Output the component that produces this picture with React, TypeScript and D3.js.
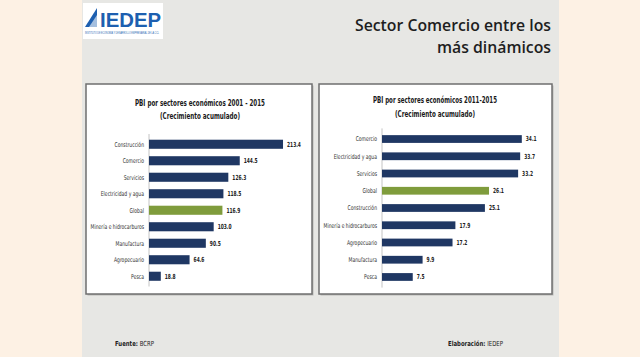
import React from "react";
import * as d3 from "d3";

const leftCategories = ["Construcción", "Comercio", "Servicios", "Electricidad y agua", "Global", "Minería e hidrocarburos", "Manufactura", "Agropecuario", "Pesca"];
const leftValues = [213.4, 144.5, 126.3, 118.5, 116.9, 103.0, 90.5, 64.6, 18.8];
const rightCategories = ["Comercio", "Electricidad y agua", "Servicios", "Global", "Construcción", "Minería e hidrocarburos", "Agropecuario", "Manufactura", "Pesca"];
const rightValues = [34.1, 33.7, 33.2, 26.1, 25.1, 17.9, 17.2, 9.9, 7.5];
const leftTitle = ["PBI por sectores económicos 2001 - 2015", "(Crecimiento acumulado)"];
const rightTitle = ["PBI por sectores económicos 2011-2015", "(Crecimiento acumulado)"];

const NAVY = "#1f3763";
const GREEN = "#7f9c3c";
const NARROW = "'Liberation Sans Narrow', 'DejaVu Sans Condensed', 'Noto Sans', sans-serif";

type PanelProps = {
  cats: string[];
  vals: number[];
  title: string[];
  box: [number, number, number, number];
  axisX: number;
  pxPerUnit: number;
  yTop: number;
  yBottom: number;
  pad: number;
  titleX: number;
  titleY: number[];
  titleW: number[];
};

function Panel(p: PanelProps) {
  const y = d3.scaleBand<string>().domain(p.cats).range([p.yTop, p.yBottom]).paddingInner(p.pad).paddingOuter(p.pad / 2);
  const maxV = d3.max(p.vals) as number;
  const x = d3.scaleLinear().domain([0, maxV]).range([p.axisX, p.axisX + maxV * p.pxPerUnit]);
  const [bx, by, bw, bh] = p.box;
  return (
    <g>
      <rect x={bx + 1.5} y={by + 1.5} width={bw} height={bh} fill="#b9b9b6" />
      <rect x={bx} y={by} width={bw} height={bh} fill="#ffffff" stroke="#6f6f6f" strokeWidth={1.5} />
      {p.title.map((t, i) => (
        <text key={i} x={p.titleX} y={p.titleY[i]} textAnchor="middle" fontFamily={NARROW} fontWeight="bold" fontSize={9.5} fill="#1a1a1a" textLength={p.titleW[i]} lengthAdjust="spacingAndGlyphs">{t}</text>
      ))}
      <line x1={p.axisX} x2={p.axisX} y1={p.yTop - 2} y2={p.yBottom + 2} stroke="#c4c4c4" strokeWidth={1} />
      {p.cats.map((c, i) => {
        const yy = y(c) as number;
        const bwid = y.bandwidth();
        const cy = yy + bwid / 2;
        return (
          <g key={c}>
            <rect x={x(0)} y={yy} width={x(p.vals[i]) - x(0)} height={bwid} fill={c === "Global" ? GREEN : NAVY} />
            <text transform={`translate(${p.axisX - 5},${cy}) scale(0.76,1)`} dy="0.35em" textAnchor="end" fontFamily={NARROW} fontSize={6.6} fill="#333">{c}</text>
            <text transform={`translate(${x(p.vals[i]) + 4},${cy}) scale(0.7,1)`} dy="0.35em" fontFamily={NARROW} fontSize={7} fontWeight="bold" fill="#222">{d3.format(".1f")(p.vals[i])}</text>
          </g>
        );
      })}
    </g>
  );
}

export default function App() {
  return (
    <svg width={640} height={357} style={{ position: "absolute", left: 0, top: 0, display: "block" }}>
      <rect x={0} y={0} width={640} height={357} fill="#fdf1e4" />
      <rect x={82} y={0} width={477} height={357} fill="#e7e7e4" />
      {/* logo */}
      <rect x={83} y={3} width={80} height={36} fill="#ffffff" />
      <polygon points="85,27 97,8 97,27" fill="#1d5fb0" />
      <polygon points="89,27 99,12 99,27" fill="#ffffff" opacity={0.6} />
      <text x={100} y={27} fontFamily="'Liberation Sans', Arial, sans-serif" fontWeight="bold" fontSize={21} fill="#1d5fb0" textLength={61} lengthAdjust="spacingAndGlyphs">IEDEP</text>
      <text x={85} y={34} fontFamily="sans-serif" fontSize={2.6} fill="#1d5fb0" textLength={74} lengthAdjust="spacingAndGlyphs">INSTITUTO DE ECONOMÍA Y DESARROLLO EMPRESARIAL DE LA CCL</text>
      {/* title */}
      <text x={551} y={31} textAnchor="end" fontFamily="'Open Sans', sans-serif" fontWeight="600" fontSize={17} fill="#1e1e1e" textLength={196} lengthAdjust="spacingAndGlyphs">Sector Comercio entre los</text>
      <text x={551} y={53} textAnchor="end" fontFamily="'Open Sans', sans-serif" fontWeight="600" fontSize={17} fill="#1e1e1e" textLength={114} lengthAdjust="spacingAndGlyphs">más dinámicos</text>
      <Panel cats={leftCategories} vals={leftValues} title={leftTitle} box={[86, 84, 226, 210]} axisX={149} pxPerUnit={0.628} yTop={136} yBottom={284.5} pad={0.45} titleX={200} titleY={[106, 119]} titleW={[130, 80]} />
      <Panel cats={rightCategories} vals={rightValues} title={rightTitle} box={[319, 84, 233, 210]} axisX={382} pxPerUnit={4.1} yTop={130.4} yBottom={285.6} pad={0.55} titleX={435} titleY={[103, 117]} titleW={[124, 80]} />
      <text transform="translate(115,346) scale(0.85,1)" fontFamily={NARROW} fontSize={7} fill="#222"><tspan fontWeight="bold">Fuente: </tspan>BCRP</text>
      <text transform="translate(448,346) scale(0.85,1)" fontFamily={NARROW} fontSize={7} fill="#222"><tspan fontWeight="bold">Elaboración: </tspan>IEDEP</text>
    </svg>
  );
}
